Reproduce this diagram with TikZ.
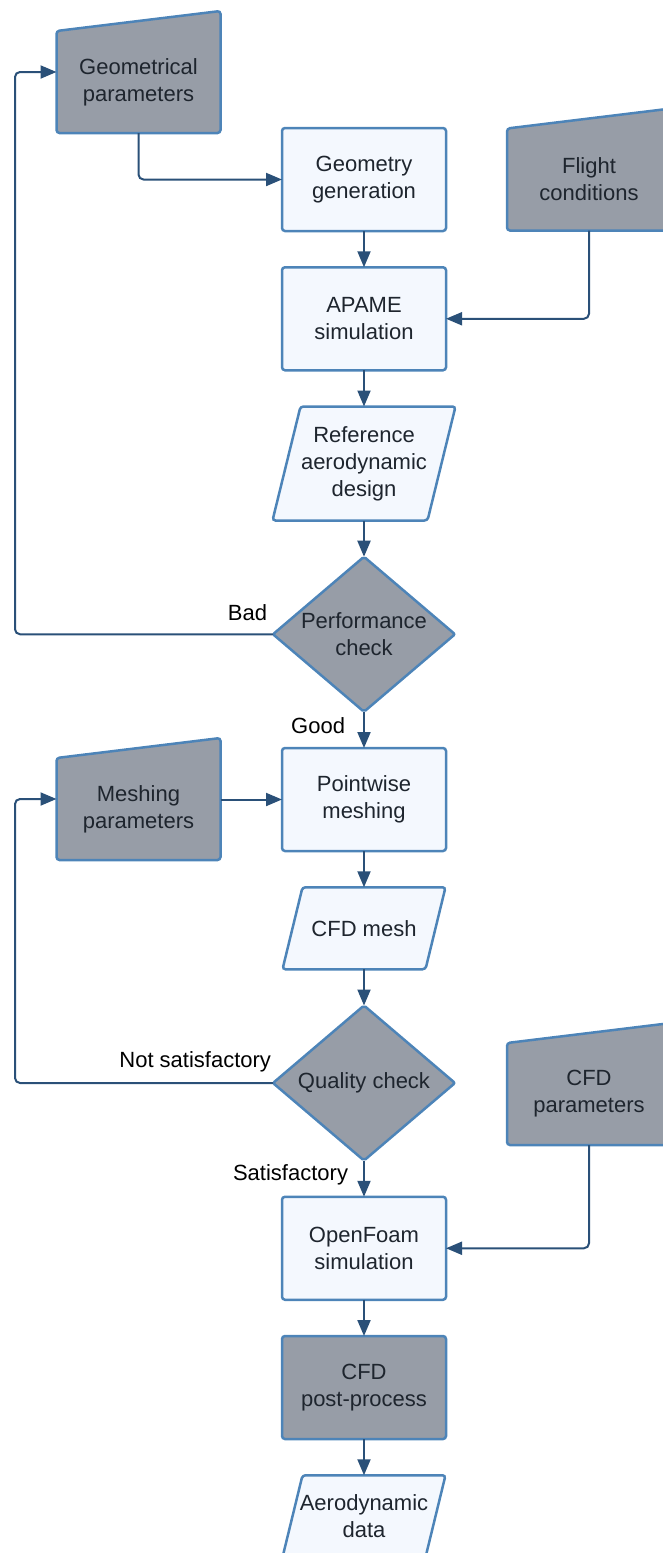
\documentclass[tikz,border=0pt]{standalone}
\usepackage{fontspec}
\setmainfont{Liberation Sans}
\usepackage{tikz}
\usetikzlibrary{arrows.meta,positioning,shapes.geometric,backgrounds}
\definecolor{edge}{HTML}{4D84B8}
\definecolor{slate}{HTML}{979DA7}
\definecolor{paper}{HTML}{F4F8FE}
\definecolor{wire}{HTML}{2A5078}
\definecolor{ink}{HTML}{1E252E}

\begin{document}
\begin{tikzpicture}[
  x=1pt, y=-1pt,
  font=\fontsize{22}{27}\selectfont,
  node distance=36.25pt,
  proc/.style={draw=edge, line width=2.5pt, rounded corners=3pt, fill=paper,
    text=ink, align=center, outer sep=0pt,
    minimum width=164pt, minimum height=103pt},
  dark/.style={proc, fill=slate},
  dec/.style={diamond, draw=edge, line width=2.5pt, rounded corners=2pt,
    fill=slate, text=ink, align=center, inner sep=0pt, outer sep=0pt,
    aspect=1.17, minimum width=182pt, minimum height=155pt},
  io/.style={text=ink, align=center, outer sep=0pt, inner sep=2pt,
    minimum width=143pt, minimum height=82pt},
  manual/.style={text=ink, align=center, outer sep=0pt,
    minimum width=164pt, minimum height=102pt},
  mshape/.style={draw=edge, line width=2.5pt, rounded corners=3pt, fill=slate},
  dshape/.style={draw=edge, line width=2.5pt, rounded corners=3pt, fill=paper},
  lbl/.style={inner sep=0pt, anchor=base east, text=black},
  arr/.style={-{Triangle[length=16pt, width=13pt]}, line width=2pt,
    draw=wire, rounded corners=5pt}
]
\useasboundingbox (0,0) rectangle (663,1553);
\node[proc] (gen) at (364,179.5) {Geometry\\generation};
\node[proc, below=of gen] (apame) {APAME\\simulation};
\node[io, below=of apame, minimum width=155pt, minimum height=114pt] (ref) {Reference\\aerodynamic\\design\vphantom{p}};
\node[dec, below=of ref] (perf) {Performance\\check};
\node[proc, below=of perf] (point) {Pointwise\\meshing};
\node[io, below=of point] (mesh) {CFD mesh};
\node[dec, below=of mesh] (qual) {Quality check};
\node[proc, below=of qual] (open) {OpenFoam\\simulation};
\node[dark, below=of open] (post) {CFD\\post-process};
\node[io, below=of post] (data) {Aerodynamic\\data};
\node[manual] (geom) at (138.5,82) {Geometrical\\parameters};
\node[manual] (flight) at (589,179.5) {Flight\\conditions};
\node[manual] (meshp) at (138.5,809) {Meshing\\parameters};
\node[manual] (cfdp) at (589,1094) {CFD\\parameters};
\begin{scope}[on background layer]
\foreach \n in {geom,flight,meshp,cfdp}
  \draw[mshape] (\n.south west) -- (\n.north west) -- ([yshift=20pt]\n.north east) -- (\n.south east) -- cycle;
\foreach \n/\s in {ref/14pt,mesh/10pt,data/10pt}
  \draw[dshape] ([xshift=\s]\n.north west) -- ([xshift=\s]\n.north east) -- ([xshift=-\s]\n.south east) -- ([xshift=-\s]\n.south west) -- cycle;
\end{scope}
\draw[arr] (geom.south) |- (gen.west);
\draw[arr] (gen) -- (apame);
\draw[arr] (flight.south) |- (apame.east);
\draw[arr] (apame) -- (ref);
\draw[arr] (ref) -- (perf);
\draw[arr] (perf.west) node[lbl, xshift=-5pt, yshift=14pt] {Bad} -- ++(-258,0) |- ([yshift=10pt]geom.west);
\draw[arr] (perf.south) node[lbl, xshift=-18pt, yshift=-22pt] {Good} -- (point);
\draw[arr] (meshp.east |- point.west) -- (point.west);
\draw[arr] (point) -- (mesh);
\draw[arr] (mesh) -- (qual);
\draw[arr] (qual.west) node[lbl, xshift=-1pt, yshift=16pt] {Not satisfactory} -- ++(-258,0) |- ([yshift=10pt]meshp.west);
\draw[arr] (qual.south) node[lbl, xshift=-15pt, yshift=-20pt] {Satisfactory} -- (open);
\draw[arr] (cfdp.south) |- (open.east);
\draw[arr] (open) -- (post);
\draw[arr] (post) -- (data);
\end{tikzpicture}
\end{document}
